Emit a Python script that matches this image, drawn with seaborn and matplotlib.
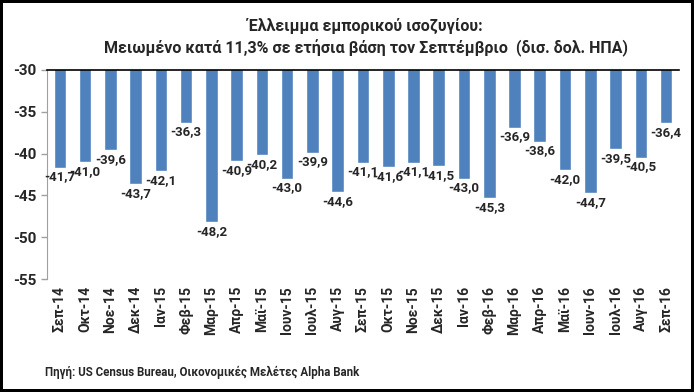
import matplotlib
matplotlib.use("Agg")
import matplotlib.pyplot as plt
import seaborn as sns
import pandas as pd

# months and trade balance (bn USD)
months = ["Σεπ-14", "Οκτ-14", "Νοε-14", "Δεκ-14", "Ιαν-15", "Φεβ-15", "Μαρ-15",
          "Απρ-15", "Μαϊ-15", "Ιουν-15", "Ιουλ-15", "Αυγ-15", "Σεπ-15", "Οκτ-15",
          "Νοε-15", "Δεκ-15", "Ιαν-16", "Φεβ-16", "Μαρ-16", "Απρ-16", "Μαϊ-16",
          "Ιουν-16", "Ιουλ-16", "Αυγ-16", "Σεπ-16"]
balance = [-41.7, -41.0, -39.6, -43.7, -42.1, -36.3, -48.2,
           -40.9, -40.2, -43.0, -39.9, -44.6, -41.1, -41.6,
           -41.1, -41.5, -43.0, -45.3, -36.9, -38.6, -42.0,
           -44.7, -39.5, -40.5, -36.4]
yticks = [-55, -50, -45, -40, -35, -30]

df = pd.DataFrame({"Month": months, "Balance": balance})

sns.set_style("white")
plt.rcParams["font.family"] = ["Roboto", "DejaVu Sans"]
plt.rcParams["font.weight"] = "bold"

fig = plt.figure(figsize=(6.94, 3.92), dpi=100, edgecolor="black", linewidth=3)
ax = fig.add_axes([0.068, 0.288, 0.91, 0.534])

sns.barplot(data=df, x="Month", y="Balance", color="#4F81BD", saturation=1,
            width=0.5, ax=ax)

# bars hang from the top (-30) down to the value
ax.set_ylim(-55, -30)
ax.set_yticks(yticks)
ax.set_yticklabels([str(t) for t in yticks], fontsize=11, fontweight="bold")
ax.set_xticks(range(len(months)))
ax.set_xticklabels(months, rotation=90, fontsize=10, fontweight="bold")
ax.tick_params(axis="x", length=0, pad=5)
ax.tick_params(axis="y", length=4, width=1, color="#A0A0A0", direction="out", left=True)
ax.set_xlabel("")
ax.set_ylabel("")

for side in ["right", "bottom"]:
    ax.spines[side].set_visible(False)
ax.spines["top"].set_color("black")
ax.spines["top"].set_linewidth(1.2)
ax.spines["left"].set_color("#A0A0A0")

labels = [f"{v:.1f}".replace(".", ",") for v in balance]
ax.bar_label(ax.containers[0], labels=labels, padding=2, fontsize=9.5, fontweight="bold")

fig.text(0.527, 0.934, "Έλλειμμα εμπορικού ισοζυγίου:", ha="center", va="center",
         fontsize=11.5, fontweight="bold")
fig.text(0.527, 0.878, "Μειωμένο κατά 11,3% σε ετήσια βάση τον Σεπτέμβριο  (δισ. δολ. ΗΠΑ)",
         ha="center", va="center", fontsize=11.5, fontweight="bold")
fig.text(0.065, 0.05, "Πηγή: US Census Bureau, Οικονομικές Μελέτες Alpha Bank",
         ha="left", va="center", fontsize=8.3, fontweight="bold")

fig.savefig("out.png", dpi=100)
